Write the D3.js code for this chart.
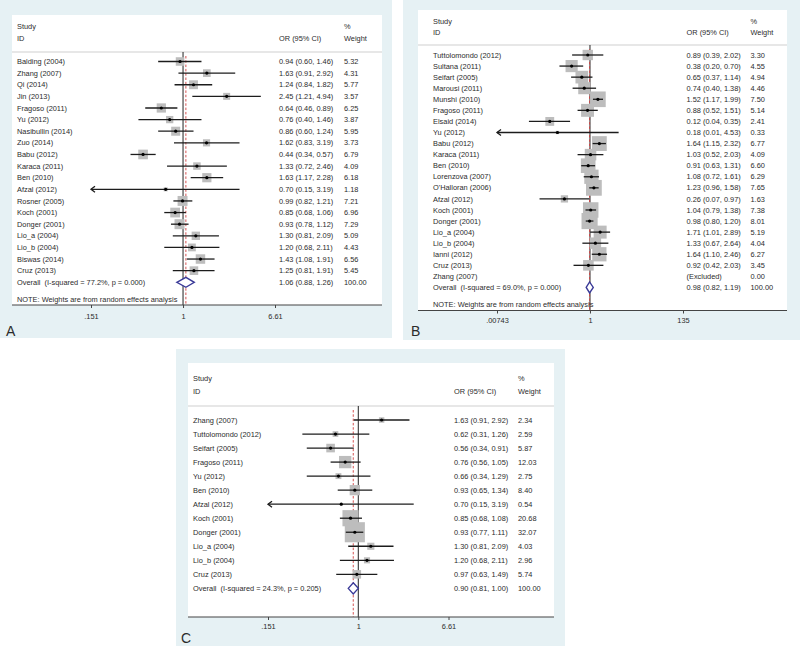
<!DOCTYPE html>
<html><head><meta charset="utf-8">
<script src="https://cdn.jsdelivr.net/npm/d3@7"></script>
<style>
body{margin:0;background:#fff}
svg{display:block}
text{font-family:"Liberation Sans",Arial,Helvetica,sans-serif;fill:#2b2b2b;white-space:pre}
</style>
</head><body>
<svg id="chart" width="800" height="649"></svg>
<script>
// ---------------- DATA ----------------
// Panel A
const studiesA = ["Balding (2004)","Zhang (2007)","Qi (2014)","Jin (2013)","Fragoso (2011)","Yu (2012)","Nasibullin (2014)","Zuo (2014)","Babu (2012)","Karaca (2011)","Ben (2010)","Afzal (2012)","Rosner (2005)","Koch (2001)","Donger (2001)","Lio_a (2004)","Lio_b (2004)","Biswas (2014)","Cruz (2013)"];
const orA  = [0.94,1.63,1.24,2.45,0.64,0.76,0.86,1.62,0.44,1.33,1.63,0.70,0.99,0.85,0.93,1.30,1.20,1.43,1.25];
const loA  = [0.60,0.91,0.84,1.21,0.46,0.40,0.60,0.83,0.34,0.72,1.17,0.15,0.82,0.68,0.78,0.81,0.68,1.08,0.81];
const hiA  = [1.46,2.92,1.82,4.94,0.89,1.46,1.24,3.19,0.57,2.46,2.28,3.19,1.21,1.06,1.12,2.09,2.11,1.91,1.91];
const wA   = [5.32,4.31,5.77,3.57,6.25,3.87,5.95,3.73,6.79,4.09,6.18,1.18,7.21,6.96,7.29,5.09,4.43,6.56,5.45];
const overallA = [1.06,0.88,1.26];
const overallLabelA = "Overall  (I-squared = 77.2%, p = 0.000)";
const ticksA = [0.151,1,6.61];
const tickLabelsA = [".151","1","6.61"];

// Panel B
const studiesB = ["Tuttolomondo (2012)","Sultana (2011)","Seifart (2005)","Marousi (2011)","Munshi (2010)","Fragoso (2011)","Elsaid (2014)","Yu (2012)","Babu (2012)","Karaca (2011)","Ben (2010)","Lorenzova (2007)","O'Halloran (2006)","Afzal (2012)","Koch (2001)","Donger (2001)","Lio_a (2004)","Lio_b (2004)","Ianni (2012)","Cruz (2013)","Zhang (2007)"];
const orB  = [0.89,0.38,0.65,0.74,1.52,0.88,0.12,0.18,1.64,1.03,0.91,1.08,1.23,0.26,1.04,0.98,1.71,1.33,1.64,0.92,null];
const loB  = [0.39,0.20,0.37,0.40,1.17,0.52,0.04,0.007,1.15,0.52,0.63,0.72,0.96,0.07,0.79,0.80,1.01,0.67,1.10,0.42,null];
const hiB  = [2.02,0.70,1.14,1.38,1.99,1.51,0.35,4.53,2.32,2.03,1.31,1.61,1.58,0.97,1.38,1.20,2.89,2.64,2.46,2.03,null];
const wB   = [3.30,4.55,4.94,4.46,7.50,5.14,2.41,0.33,6.77,4.09,6.60,6.29,7.65,1.63,7.38,8.01,5.19,4.04,6.27,3.45,0.00];
const overallB = [0.98,0.82,1.19];
const overallLabelB = "Overall  (I-squared = 69.0%, p = 0.000)";
const ticksB = [0.00743,1,135];
const tickLabelsB = [".00743","1","135"];

// Panel C
const studiesC = ["Zhang (2007)","Tuttolomondo (2012)","Seifart (2005)","Fragoso (2011)","Yu (2012)","Ben (2010)","Afzal (2012)","Koch (2001)","Donger (2001)","Lio_a (2004)","Lio_b (2004)","Cruz (2013)"];
const orC  = [1.63,0.62,0.56,0.76,0.66,0.93,0.70,0.85,0.93,1.30,1.20,0.97];
const loC  = [0.91,0.31,0.34,0.56,0.34,0.65,0.15,0.68,0.77,0.81,0.68,0.63];
const hiC  = [2.92,1.26,0.91,1.05,1.29,1.34,3.19,1.08,1.11,2.09,2.11,1.49];
const wC   = [2.34,2.59,5.87,12.03,2.75,8.40,0.54,20.68,32.07,4.03,2.96,5.74];
const overallC = [0.90,0.81,1.00];
const overallLabelC = "Overall  (I-squared = 24.3%, p = 0.205)";
const ticksC = [0.151,1,6.61];
const tickLabelsC = [".151","1","6.61"];

const noteText = "NOTE: Weights are from random effects analysis";

// ---------------- LAYOUT ----------------
const layouts = [
  {letter:"A", bg:[0,0,392,338], box:[12,15,382,305], range:[91,275],
   studyX:17, orX:279, wX:344, hdr1:26.7, hdr2:38.3, hdrLine:52,
   y0:61.5, step:11.62, noteY:299, axisY:305, tickLabY:316, letterXY:[6,331], k:3.7,
   studies:studiesA, or:orA, lo:loA, hi:hiA, w:wA, overall:overallA, overallLabel:overallLabelA,
   ticks:ticksA, tickLabels:tickLabelsA, note:true, dh:5},
  {letter:"B", bg:[403,0,800,340], box:[418,10,787,310.5], range:[497,683],
   studyX:433, orX:686.5, wX:750.5, hdr1:21.7, hdr2:32.7, hdrLine:45,
   y0:55, step:11.07, noteY:304, axisY:310.5, tickLabY:320.5, letterXY:[411,331], k:5.7,
   studies:studiesB, or:orB, lo:loB, hi:hiB, w:wB, overall:overallB, overallLabel:overallLabelB,
   ticks:ticksB, tickLabels:tickLabelsB, note:true, dh:5.5},
  {letter:"C", bg:[176,349,565,646], box:[188,363,554,617], range:[268,448.5],
   studyX:193, orX:454, wX:518, hdr1:378, hdr2:391.7, hdrLine:406,
   y0:420, step:14.03, noteY:null, axisY:617, tickLabY:626, letterXY:[181,638], k:3.55,
   studies:studiesC, or:orC, lo:loC, hi:hiC, w:wC, overall:overallC, overallLabel:overallLabelC,
   ticks:ticksC, tickLabels:tickLabelsC, note:false, dh:5.5}
];

const FS = 7.4;
const svg = d3.select("#chart");
const fmt = v => v.toFixed(2);

layouts.forEach(L => {
  const g = svg.append("g");
  g.append("rect").attr("x",L.bg[0]).attr("y",L.bg[1]).attr("width",L.bg[2]-L.bg[0]).attr("height",L.bg[3]-L.bg[1]).attr("fill","#e6f1f4");
  g.append("rect").attr("x",L.box[0]).attr("y",L.box[1]).attr("width",L.box[2]-L.box[0]).attr("height",L.box[3]-L.box[1]).attr("fill","#ffffff");

  const x = d3.scaleLog().domain([L.ticks[0], L.ticks[L.ticks.length-1]]).range(L.range);
  const [dmin, dmax] = x.domain();
  const n = L.studies.length;
  const y = d3.scaleLinear().domain([0, n]).range([L.y0, L.y0 + n*L.step]);

  const txt = (s, tx, ty, opts={}) => g.append("text").attr("x",tx).attr("y",ty).attr("dy","0.35em")
      .attr("font-size", opts.fs || FS).attr("text-anchor", opts.anchor || "start").text(s);

  // header
  txt("Study", L.studyX, L.hdr1);
  txt("ID", L.studyX, L.hdr2);
  txt("OR (95% CI)", L.orX, L.hdr2);
  txt("%", L.wX, L.hdr1);
  txt("Weight", L.wX, L.hdr2);
  g.append("line").attr("x1",L.box[0]).attr("x2",L.box[2]).attr("y1",L.hdrLine).attr("y2",L.hdrLine)
    .attr("stroke","#cfcfcf").attr("stroke-width",1);

  // reference lines
  g.append("line").attr("x1",x(1)).attr("x2",x(1)).attr("y1",L.hdrLine).attr("y2",L.axisY)
    .attr("stroke","#222").attr("stroke-width",1);
  g.append("line").attr("x1",x(L.overall[0])).attr("x2",x(L.overall[0])).attr("y1",L.hdrLine+4).attr("y2",L.axisY)
    .attr("stroke","#d04040").attr("stroke-width",0.9).attr("stroke-dasharray","2.5,1.8");

  const idx = d3.range(n).filter(i => L.or[i] != null && L.w[i] > 0);

  // weight boxes
  g.selectAll(null).data(idx).enter().append("rect")
    .attr("x", i => x(L.or[i]) - L.k*Math.sqrt(L.w[i])/2)
    .attr("y", i => y(i) - L.k*Math.sqrt(L.w[i])/2)
    .attr("width", i => L.k*Math.sqrt(L.w[i]))
    .attr("height", i => L.k*Math.sqrt(L.w[i]))
    .attr("fill","#bdbdbd");

  // CI lines
  g.selectAll(null).data(idx).enter().append("line")
    .attr("x1", i => x(Math.max(L.lo[i], dmin)))
    .attr("x2", i => x(Math.min(L.hi[i], dmax)))
    .attr("y1", i => y(i)).attr("y2", i => y(i))
    .attr("stroke","#1c1c1c").attr("stroke-width",1.3);

  // arrows for truncated CIs
  idx.filter(i => L.lo[i] < dmin).forEach(i => {
    const ax = x(dmin), ay = y(i);
    g.append("path").attr("d", `M${ax+4},${ay-3}L${ax},${ay}L${ax+4},${ay+3}`)
      .attr("fill","none").attr("stroke","#1c1c1c").attr("stroke-width",1.3);
  });

  // point estimates
  g.selectAll(null).data(idx).enter().append("circle")
    .attr("cx", i => x(L.or[i])).attr("cy", i => y(i)).attr("r",1.6).attr("fill","#000");

  // overall diamond
  const oy = y(n), [oo, ol, oh] = L.overall;
  g.append("path").attr("d", `M${x(ol)},${oy}L${x(oo)},${oy-L.dh}L${x(oh)},${oy}L${x(oo)},${oy+L.dh}Z`)
    .attr("fill","#fff").attr("stroke","#3a3a98").attr("stroke-width",1.4);

  // text columns
  L.studies.forEach((s, i) => {
    txt(s, L.studyX, y(i));
    txt(L.or[i] == null ? "(Excluded)" : `${fmt(L.or[i])} (${fmt(L.lo[i])}, ${fmt(L.hi[i])})`, L.orX, y(i));
    txt(fmt(L.w[i]), L.wX, y(i));
  });
  txt(L.overallLabel, L.studyX, oy);
  txt(`${fmt(oo)} (${fmt(ol)}, ${fmt(oh)})`, L.orX, oy);
  txt(fmt(d3.sum(L.w)), L.wX, oy);
  if (L.note) txt(noteText, L.studyX, L.noteY);

  // axis
  g.append("line").attr("x1",L.box[0]).attr("x2",L.box[2]).attr("y1",L.axisY).attr("y2",L.axisY)
    .attr("stroke","#444").attr("stroke-width",1.1);
  const ax = g.append("g").attr("transform",`translate(0,${L.axisY})`)
    .call(d3.axisBottom(x).tickValues(L.ticks).tickFormat((d,i) => L.tickLabels[i]).tickSize(3).tickSizeOuter(0));
  ax.select(".domain").remove();
  ax.selectAll(".tick line").attr("stroke","#444");
  ax.selectAll(".tick text").attr("font-size",FS).attr("font-family",null).attr("fill","#2b2b2b")
    .attr("y", L.tickLabY - L.axisY).attr("dy","0.35em");

  txt(L.letter, L.letterXY[0], L.letterXY[1], {fs:14});
});
</script>
</body></html>
